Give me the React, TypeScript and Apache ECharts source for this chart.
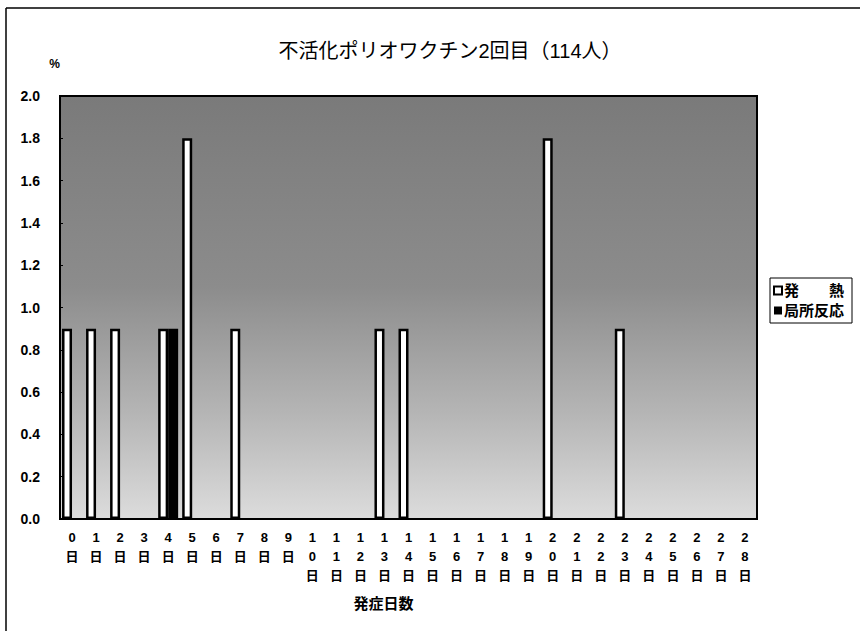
import React, { useEffect, useRef } from "react";
import * as echarts from "echarts";

const categories = [
  "0日", "1日", "2日", "3日", "4日", "5日", "6日", "7日", "8日", "9日",
  "10日", "11日", "12日", "13日", "14日", "15日", "16日", "17日", "18日", "19日",
  "20日", "21日", "22日", "23日", "24日", "25日", "26日", "27日", "28日",
];
const feverValues = [
  0.9, 0.9, 0.9, 0, 0.9, 1.8, 0, 0.9, 0, 0,
  0, 0, 0, 0.9, 0.9, 0, 0, 0, 0, 0,
  1.8, 0, 0, 0.9, 0, 0, 0, 0, 0,
];
const localValues = [
  0, 0, 0, 0, 0.9, 0, 0, 0, 0, 0,
  0, 0, 0, 0, 0, 0, 0, 0, 0, 0,
  0, 0, 0, 0, 0, 0, 0, 0, 0,
];
const seriesNames = ["発　　熱", "局所反応"];
const yTicks = { min: 0, max: 2, interval: 0.2 };
const titleText = "不活化ポリオワクチン2回目（114人）";
const xAxisName = "発症日数";
const yAxisName = "%";

const FONT = "'Liberation Sans', 'Noto Sans CJK JP', sans-serif";

export default function App() {
  const ref = useRef<HTMLDivElement>(null);
  useEffect(() => {
    if (!ref.current) return;
    const chart = echarts.init(ref.current, null, { renderer: "svg" });
    const toData = (arr: number[]) => arr.map((v) => (v === 0 ? "-" : v));
    chart.setOption({
      animation: false,
      backgroundColor: "#fff",
      textStyle: { fontFamily: FONT, color: "#000" },
      title: {
        text: titleText,
        left: 445,
        textAlign: "center",
        top: 36,
        textStyle: { fontFamily: FONT, fontSize: 20, fontWeight: "normal", color: "#000" },
      },
      legend: {
        orient: "vertical",
        left: 770,
        top: 278,
        itemWidth: 8,
        itemHeight: 8,
        itemGap: 5,
        padding: [5, 8, 5, 3],
        borderColor: "#000",
        borderWidth: 1,
        icon: "rect",
        textStyle: { fontFamily: FONT, fontSize: 15, fontWeight: "bold", color: "#000", padding: [0, 0, 0, -3] },
        data: seriesNames,
      },
      grid: {
        left: 60,
        right: 103,
        top: 96,
        bottom: 112,
        show: true,
        borderColor: "#000",
        borderWidth: 2,
        backgroundColor: new echarts.graphic.LinearGradient(0, 0, 0, 1, [
          { offset: 0, color: "#7a7a7a" },
          { offset: 0.45, color: "#8c8c8c" },
          { offset: 0.75, color: "#b5b5b5" },
          { offset: 1, color: "#dcdcdc" },
        ]),
      },
      xAxis: {
        type: "category",
        data: categories,
        name: xAxisName,
        nameLocation: "middle",
        nameGap: 77,
        nameTextStyle: { fontFamily: FONT, fontSize: 15, fontWeight: "bold", color: "#000", padding: [0, 50, 0, 0] },
        axisLine: { lineStyle: { color: "#000", width: 2 } },
        axisTick: { inside: true, length: 4, lineStyle: { color: "#000" } },
        axisLabel: {
          interval: 0,
          margin: 9,
          fontFamily: FONT,
          fontSize: 13,
          fontWeight: "bold",
          color: "#000",
          lineHeight: 19,
          verticalAlign: "top",
          formatter: (v: string) => v.split("").join("\n"),
        },
      },
      yAxis: {
        type: "value",
        min: yTicks.min,
        max: yTicks.max,
        interval: yTicks.interval,
        name: yAxisName,
        nameLocation: "end",
        nameGap: 26,
        nameTextStyle: { fontFamily: FONT, fontSize: 12, fontWeight: "bold", color: "#000", align: "right" },
        splitLine: { show: false },
        axisLine: { show: true, lineStyle: { color: "#000", width: 2 } },
        axisTick: { show: true, inside: true, length: 3, lineStyle: { color: "#000" } },
        axisLabel: {
          margin: 20,
          fontFamily: FONT,
          fontSize: 14,
          fontWeight: "bold",
          color: "#000",
          formatter: (v: number) => v.toFixed(1),
        },
      },
      series: [
        {
          name: seriesNames[0],
          type: "bar",
          data: toData(feverValues),
          barWidth: 10,
          barGap: "0%",
          itemStyle: { color: "#fff", borderColor: "#000", borderWidth: 2.5 },
        },
        {
          name: seriesNames[1],
          type: "bar",
          data: toData(localValues),
          barWidth: 10,
          barGap: "0%",
          itemStyle: { color: "#000", borderColor: "#000", borderWidth: 0 },
        },
      ],
      graphic: [
        { type: "line", shape: { x1: 6, y1: 8, x2: 860, y2: 8 }, style: { stroke: "#000", lineWidth: 1.5 } },
        { type: "line", shape: { x1: 6, y1: 8, x2: 6, y2: 631 }, style: { stroke: "#000", lineWidth: 1.5 } },
      ],
    });
    return () => chart.dispose();
  }, []);
  return <div ref={ref} style={{ width: 860, height: 631, position: "absolute", left: 0, top: 0 }} />;
}
